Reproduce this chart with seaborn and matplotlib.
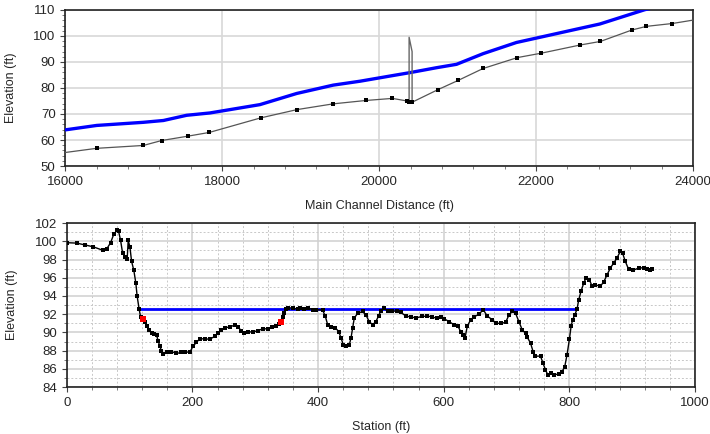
import numpy as np
import pandas as pd
import seaborn as sns
import matplotlib
matplotlib.use("Agg")
import matplotlib.pyplot as plt
from matplotlib.ticker import MultipleLocator, AutoMinorLocator

# ---- profile (top) ----
ws_dist = [16000, 16400, 16994, 17250, 17546, 17843, 18480, 18950, 19414, 19755,
           20178, 20391, 20731, 20986, 21325, 21750, 22005, 22557, 22812, 23385, 24000]
ws_elev = [63.9, 65.6, 66.8, 67.5, 69.5, 70.4, 73.6, 77.9, 81.1, 82.6,
           84.8, 85.9, 87.8, 89.1, 93.2, 97.5, 99.2, 102.9, 104.6, 110.1, 114.5]

bed_dist = [16000, 16400, 16994, 17228, 17567, 17834, 18490, 18955, 19414, 19831,
            20170, 20357, 20382, 20425, 20752, 21006, 21325, 21763, 22069, 22557,
            22820, 23222, 23406, 23737, 24000]
bed_elev = [55.2, 56.8, 57.9, 59.8, 61.5, 62.9, 68.5, 71.7, 73.9, 75.2,
            76.0, 75.0, 74.8, 74.6, 79.4, 82.9, 87.5, 91.7, 93.4, 96.5,
            97.9, 102.3, 103.7, 104.8, 106.1]
bed_marked = [False] + [True] * 23 + [False]

bridge_dist = [20382, 20382, 20420, 20420]
bridge_elev = [74.8, 99.5, 94.0, 74.6]

# ---- cross section (bottom) ----
sta = [0, 16, 29, 42, 58, 63.5, 69.8, 75, 80.3, 82.5, 85.7, 88.9, 92.5, 96.2, 97.8,
       100.5, 103.2, 106.8, 110, 112, 115.2, 117.5, 120.6, 124.3, 128, 131, 135, 139,
       142.9, 145.4, 148, 150.8, 153.4, 159.7, 166.7, 174.6, 182.5, 187.8, 195.7, 201,
       206.3, 211.6, 219.5, 227.5, 235.4, 240.7, 246, 251.3, 259.2, 267.1, 272.4, 277.8,
       282, 288.3, 296.2, 304.2, 312.1, 320, 326.4, 333.3, 337.5, 341.3, 343.8, 346.5,
       349.2, 352.9, 359.7, 367.6, 371.8, 378.3, 383.5, 391.4, 396.8, 407.3, 411.6, 415.3,
       420.6, 427.5, 432.8, 436.5, 440.2, 444.4, 449.7, 452.4, 455, 457.6, 462.9, 470.8,
       476.2, 481.4, 486.7, 492, 496.2, 500, 505.2, 510.5, 518.4, 526.3, 531.7, 539.7,
       547.6, 555.5, 566, 574, 582, 589, 595, 600.5, 608.4, 616.3, 622.7, 627, 631.1,
       633.8, 637.5, 642.9, 648.1, 656, 662.9, 669.2, 677.1, 682.5, 690.5, 698.4, 703.7,
       708.9, 714.3, 719.5, 724.8, 730.2, 732.7, 738.1, 742.2, 746, 754, 758.1, 761.9,
       765.6, 770.9, 776.2, 783, 788.3, 792.6, 796.2, 800, 802.6, 805.2, 808.4, 812.1,
       814.8, 818.4, 822.7, 826.3, 831.7, 835.9, 841.3, 849.2, 854.4, 859.7, 865.1,
       870.3, 875.6, 881, 884.6, 888.9, 894.1, 900.5, 910, 917.9, 923.2, 928.6, 932.2]
elev = [99.85, 99.8, 99.6, 99.4, 99.0, 99.15, 99.85, 100.8, 101.2, 101.1, 100.1, 98.7,
        98.3, 98.05, 100.1, 99.4, 97.8, 96.8, 95.4, 94.0, 92.56, 91.7, 91.5, 91.1, 90.7,
        90.3, 89.9, 89.85, 89.7, 89.1, 88.5, 88.0, 87.6, 87.8, 87.9, 87.7, 87.8, 87.9,
        87.8, 88.5, 88.9, 89.3, 89.3, 89.25, 89.56, 89.9, 90.3, 90.5, 90.6, 90.8, 90.6,
        90.2, 89.9, 90.07, 90.05, 90.2, 90.4, 90.4, 90.6, 90.7, 90.9, 91.1, 91.7, 92.1,
        92.56, 92.7, 92.68, 92.56, 92.7, 92.56, 92.7, 92.5, 92.5, 92.45, 91.75, 90.84,
        90.6, 90.5, 90.1, 89.4, 88.64, 88.5, 88.64, 89.4, 90.5, 91.57, 92.1, 92.3, 91.9,
        91.2, 90.84, 91.2, 91.8, 92.4, 92.68, 92.3, 92.3, 92.4, 92.2, 91.8, 91.7, 91.6,
        91.75, 91.8, 91.7, 91.55, 91.65, 91.5, 91.2, 90.84, 90.66, 90.1, 89.74, 89.4,
        90.7, 91.4, 91.7, 92.0, 92.5, 91.8, 91.4, 91.0, 91.0, 91.1, 91.9, 92.3, 92.1,
        91.2, 90.3, 89.9, 89.5, 88.83, 87.9, 87.4, 87.4, 86.6, 85.9, 85.35, 85.6, 85.35,
        85.45, 85.7, 86.26, 87.55, 89.27, 90.66, 91.4, 91.9, 92.56, 93.58, 94.5, 95.4,
        95.96, 95.8, 95.1, 95.2, 95.1, 95.5, 96.3, 97.06, 97.6, 98.16, 98.9, 98.7, 97.8,
        96.95, 96.8, 97.06, 97.1, 97.0, 96.8, 96.95]

bank_sta = [120.6, 341.3]
bank_elev = [91.5, 91.1]

wse_sta = [115.2, 812.1]
wse_elev = [92.6, 92.6]


def style_axes(ax):
    for s in ax.spines.values():
        s.set_color("#222222")
        s.set_linewidth(1.2)
    ax.tick_params(axis="both", which="both", bottom=True, left=True, direction="out")
    ax.tick_params(axis="both", which="major", labelsize=9.5, length=3.5, width=0.8,
                   color="#444444")
    ax.tick_params(axis="both", which="minor", length=2, width=0.6, color="#666666")


def draw_profile(ax):
    sns.lineplot(x=ws_dist, y=ws_elev, ax=ax, color="#0000ff", linewidth=2.4,
                 zorder=3, sort=False, estimator=None)
    sns.lineplot(x=bed_dist, y=bed_elev, ax=ax, color="#555555", linewidth=0.9,
                 zorder=3, sort=False, estimator=None)
    bed = pd.DataFrame({"d": bed_dist, "e": bed_elev, "m": bed_marked})
    bed = bed[bed["m"]]
    sns.scatterplot(data=bed, x="d", y="e", ax=ax, marker="s", s=10, color="black",
                    edgecolor="black", linewidth=0, zorder=4)
    sns.lineplot(x=bridge_dist, y=bridge_elev, ax=ax, color="#666666", linewidth=1.0,
                 zorder=3, sort=False, estimator=None)

    ax.set_xlim(16000, 24000)
    ax.set_ylim(50, 110)
    ax.xaxis.set_major_locator(MultipleLocator(2000))
    ax.xaxis.set_minor_locator(AutoMinorLocator(5))
    ax.yaxis.set_major_locator(MultipleLocator(10))
    ax.yaxis.set_minor_locator(AutoMinorLocator(5))
    ax.grid(True, which="major", color="#d8d8d8", linewidth=1.2, zorder=0)
    ax.set_xlabel("Main Channel Distance (ft)", fontsize=9, labelpad=9)
    ax.set_ylabel("Elevation (ft)", fontsize=9, labelpad=12)
    style_axes(ax)


def draw_section(ax):
    sns.lineplot(x=wse_sta, y=wse_elev, ax=ax, color="#0000ff", linewidth=2.0, zorder=3,
                 estimator=None)
    sns.lineplot(x=sta, y=elev, ax=ax, color="black", linewidth=1.0, marker="s",
                 markersize=3.5, markeredgewidth=0, zorder=4, sort=False, estimator=None)
    # bank station markers on top of the ground line
    ax.scatter(bank_sta, bank_elev, marker="s", s=20, color="#ff0000", linewidths=0,
               zorder=6)

    ax.set_xlim(0, 1000)
    ax.set_ylim(84, 102)
    ax.xaxis.set_major_locator(MultipleLocator(200))
    ax.xaxis.set_minor_locator(AutoMinorLocator(5))
    ax.yaxis.set_major_locator(MultipleLocator(2))
    ax.yaxis.set_minor_locator(AutoMinorLocator(2))
    ax.grid(True, which="major", color="#d0d0d0", linewidth=1.1, zorder=0)
    ax.grid(True, which="minor", color="#c8c8c8", linewidth=0.7, linestyle=(0, (2, 2)),
            zorder=0)
    ax.set_xlabel("Station (ft)", fontsize=9, labelpad=9)
    ax.set_ylabel("Elevation (ft)", fontsize=9, labelpad=12)
    style_axes(ax)


if __name__ == "__main__":
    sns.set_style("white")
    plt.rcParams["font.family"] = ["Liberation Sans", "DejaVu Sans"]

    fig = plt.figure(figsize=(7.1, 4.34), dpi=100)
    ax_top = fig.add_axes([0.092, 0.6175, 0.884, 0.3595])
    ax_bot = fig.add_axes([0.094, 0.108, 0.885, 0.378])

    draw_profile(ax_top)
    draw_section(ax_bot)

    fig.savefig("out.png", dpi=100, facecolor="white")
